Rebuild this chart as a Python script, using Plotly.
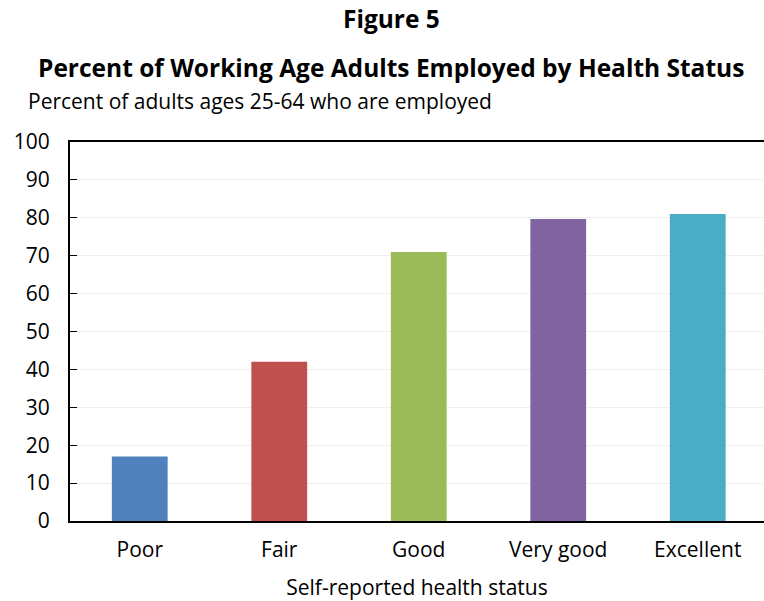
import plotly.graph_objects as go

categories = ["Poor", "Fair", "Good", "Very good", "Excellent"]
values = [17, 42, 71, 79.7, 81]
colors = ["#4F81BD", "#C0504D", "#9BBB59", "#8064A2", "#4BACC6"]
y_ticks = [0, 10, 20, 30, 40, 50, 60, 70, 80, 90, 100]

title_main = "Figure 5"
title_sub = "Percent of Working Age Adults Employed by Health Status"
subtitle = "Percent of adults ages 25-64 who are employed"
x_title = "Self-reported health status"

FONT = "Open Sans"
W, H = 764, 601
L, T, B = 70, 142, 80
PW = W - L
PH = H - T - B

fig = go.Figure(
    go.Bar(
        x=list(range(len(categories))),
        y=values,
        marker=dict(color=colors, line=dict(width=0)),
        width=0.4,
        hoverinfo="x+y",
    )
)


def px(x, y):
    """reference-picture pixel -> paper coords"""
    return (x - L) / PW, (H - y - B) / PH


annots = []
for text, x, y, size, anchor in [
    ("<b>" + title_main + "</b>", 391, 19, 24.5, "center"),
    ("<b>" + title_sub + "</b>", 391, 68, 24.5, "center"),
    (subtitle, 26, 101, 21, "left"),
]:
    ax, ay = px(x, y)
    annots.append(dict(text=text, x=ax, y=ay, xref="paper", yref="paper", showarrow=False,
                       xanchor=anchor, yanchor="middle", font=dict(size=size)))

fig.update_layout(
    width=W,
    height=H,
    autosize=False,
    margin=dict(l=L, r=0, t=T, b=B, pad=0),
    paper_bgcolor="white",
    plot_bgcolor="white",
    showlegend=False,
    font=dict(family=FONT, size=21, color="black"),
    xaxis=dict(
        range=[-0.5, 4.475],
        tickmode="array",
        tickvals=list(range(len(categories))),
        ticktext=categories,
        showgrid=False,
        showline=True,
        linecolor="black",
        linewidth=2,
        mirror=True,
        ticks="",
        ticklabelstandoff=9,
        zeroline=False,
        title=dict(text=x_title, standoff=19, font=dict(size=21)),
    ),
    yaxis=dict(
        range=[0, 100],
        tickmode="array",
        tickvals=y_ticks,
        showgrid=True,
        gridcolor="#EFEFEF",
        gridwidth=1,
        showline=True,
        linecolor="black",
        linewidth=2,
        ticks="inside",
        ticklen=7,
        tickcolor="black",
        tickwidth=1,
        ticklabelstandoff=14,
        zeroline=False,
    ),
    annotations=annots,
)

fig.write_html(
    "out.html",
    config={"displayModeBar": False},
    post_script="document.body.style.margin='0px';",
)
